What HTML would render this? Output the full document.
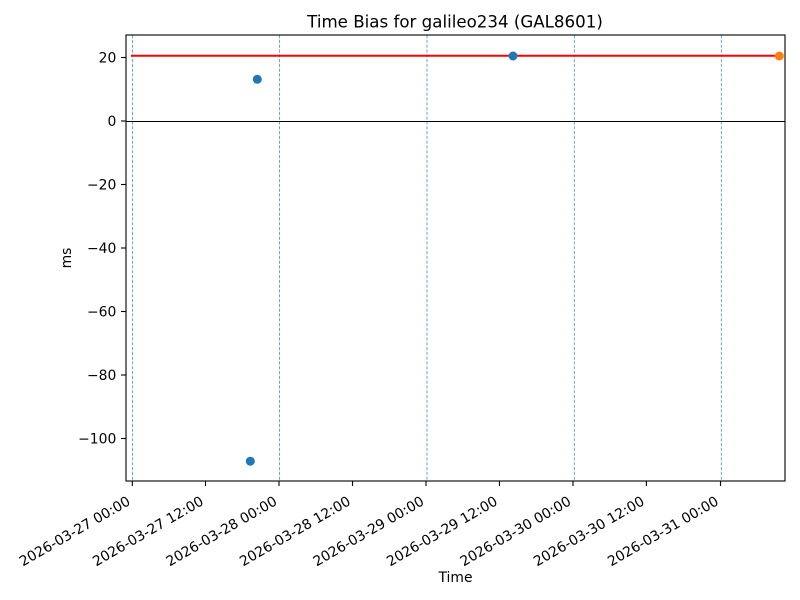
<!DOCTYPE html>
<html>
<head>
<meta charset="utf-8">
<style>
html,body{margin:0;padding:0;background:#fff;}
svg{display:block;}
text{font-family:"DejaVu Sans","Liberation Sans",sans-serif;fill:#000;}
</style>
</head>
<body>
<svg width="800" height="600" viewBox="0 0 800 600" xmlns="http://www.w3.org/2000/svg">
<rect x="0" y="0" width="800" height="600" fill="#fff"/>
<!-- vertical dashed lines -->
<g stroke="#1f77b4" stroke-width="0.8" stroke-dasharray="3.2 1.6" opacity="0.8">
<line x1="132.5" y1="35" x2="132.5" y2="481"/>
<line x1="279.5" y1="35" x2="279.5" y2="481"/>
<line x1="427" y1="35" x2="427" y2="481"/>
<line x1="574.3" y1="35" x2="574.3" y2="481"/>
<line x1="721.3" y1="35" x2="721.3" y2="481"/>
</g>
<!-- zero line -->
<line x1="126" y1="121.5" x2="785" y2="121.5" stroke="#000" stroke-width="1"/>
<!-- red line -->
<line x1="131" y1="55.8" x2="779" y2="55.8" stroke="#ff0000" stroke-width="2"/>
<!-- points -->
<circle cx="257.3" cy="79.3" r="4.5" fill="#1f77b4"/>
<circle cx="250.3" cy="461.2" r="4.5" fill="#1f77b4"/>
<circle cx="513" cy="56" r="4.5" fill="#1f77b4"/>
<circle cx="779.3" cy="56" r="4.5" fill="#ff7f0e"/>
<!-- axes box -->
<rect x="126" y="35" width="659" height="446" fill="none" stroke="#000" stroke-width="1.1"/>
<!-- y ticks -->
<g stroke="#000" stroke-width="1.1">
<line x1="121" y1="57.5" x2="126" y2="57.5"/>
<line x1="121" y1="121" x2="126" y2="121"/>
<line x1="121" y1="184.5" x2="126" y2="184.5"/>
<line x1="121" y1="248" x2="126" y2="248"/>
<line x1="121" y1="311.5" x2="126" y2="311.5"/>
<line x1="121" y1="375" x2="126" y2="375"/>
<line x1="121" y1="438.5" x2="126" y2="438.5"/>
</g>
<g font-size="13.9" text-anchor="end">
<text x="116.3" y="62.5">20</text>
<text x="116.3" y="126">0</text>
<text x="116.3" y="189.5">−20</text>
<text x="116.3" y="253">−40</text>
<text x="116.3" y="316.5">−60</text>
<text x="116.3" y="380">−80</text>
<text x="116.3" y="443.5">−100</text>
</g>
<!-- x ticks -->
<g stroke="#000" stroke-width="1.1">
<line x1="132.3" y1="481" x2="132.3" y2="486"/>
<line x1="205.5" y1="481" x2="205.5" y2="486"/>
<line x1="279" y1="481" x2="279" y2="486"/>
<line x1="352.5" y1="481" x2="352.5" y2="486"/>
<line x1="426" y1="481" x2="426" y2="486"/>
<line x1="499.5" y1="481" x2="499.5" y2="486"/>
<line x1="573" y1="481" x2="573" y2="486"/>
<line x1="646.4" y1="481" x2="646.4" y2="486"/>
<line x1="720.5" y1="481" x2="720.5" y2="486"/>
</g>
<g font-size="13.9" text-anchor="end">
<text transform="translate(131.3,504) rotate(-30)">2026-03-27 00:00</text>
<text transform="translate(204.5,504) rotate(-30)">2026-03-27 12:00</text>
<text transform="translate(278,504) rotate(-30)">2026-03-28 00:00</text>
<text transform="translate(351.5,504) rotate(-30)">2026-03-28 12:00</text>
<text transform="translate(425,504) rotate(-30)">2026-03-29 00:00</text>
<text transform="translate(498.5,504) rotate(-30)">2026-03-29 12:00</text>
<text transform="translate(572,504) rotate(-30)">2026-03-30 00:00</text>
<text transform="translate(645.4,504) rotate(-30)">2026-03-30 12:00</text>
<text transform="translate(719.5,504) rotate(-30)">2026-03-31 00:00</text>
</g>
<!-- labels -->
<text x="455.5" y="582" font-size="13.9" text-anchor="middle">Time</text>
<text transform="translate(71,258) rotate(-90)" font-size="13.9" text-anchor="middle">ms</text>
<text x="455" y="27.7" font-size="16.67" text-anchor="middle">Time Bias for galileo234 (GAL8601)</text>
</svg>
</body>
</html>
